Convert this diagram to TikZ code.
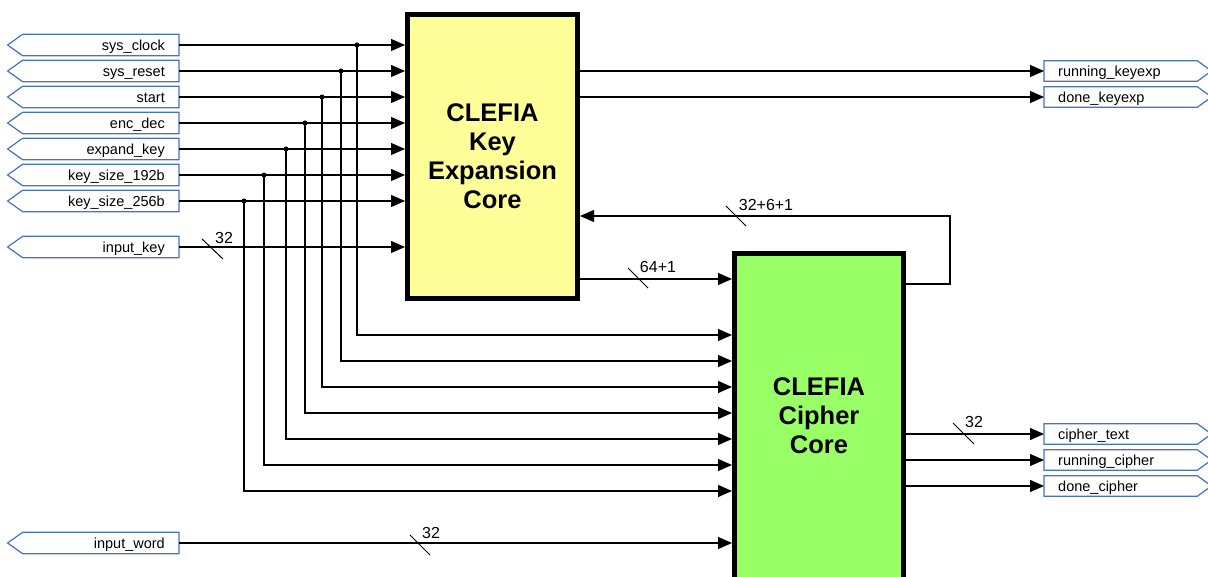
\documentclass[tikz,border=0pt]{standalone}
\usepackage{fontspec}
\setmainfont{Liberation Sans}
\usetikzlibrary{arrows.meta}
\definecolor{portblue}{RGB}{68,114,196}
\definecolor{kyellow}{RGB}{255,255,153}
\definecolor{cgreen}{RGB}{153,255,102}
\newcommand\lblfont{\fontsize{14.5}{17}\selectfont}
\newcommand\busfont{\fontsize{16}{19}\selectfont}
\newcommand\ttlfont{\fontsize{25.5}{29}\selectfont\bfseries}
\begin{document}
\begin{tikzpicture}[x=1pt,y=-1pt,
  wire/.style={line width=1.2pt},
  arr/.style={wire,-{Triangle[length=14pt,width=12pt]}},
  inport/.style={anchor=east,minimum width=171pt,minimum height=21pt,inner sep=0pt,text width=143pt,text height=10.4pt,text depth=0pt,align=right,font=\lblfont},
  outport/.style={anchor=west,minimum width=153pt,minimum height=20pt,inner sep=0pt,text width=125pt,text height=10.4pt,text depth=0pt,align=left,font=\lblfont},
  portline/.style={draw=portblue,line width=1.2pt,line join=miter},
  core/.style={draw=black,line width=5pt,inner sep=0pt},
  jdot/.style={circle,fill=black,inner sep=0pt,minimum size=5pt},
  buslbl/.style={font=\busfont,inner sep=0pt},
  slash/.style={line width=1pt}
]
\useasboundingbox (0,0) rectangle (1208,577);

% core blocks
\node[core,fill=kyellow,minimum width=170pt,minimum height=284pt,font=\ttlfont,align=center] (kex) at (492.5,156.5) {CLEFIA\\Key\\Expansion\\Core};
\node[core,fill=cgreen,minimum width=169pt,minimum height=446pt] (cc) at (819,476.5) {};
\node[font=\ttlfont,align=center,inner sep=0pt] (cct) at (819,416) {CLEFIA\\Cipher\\Core};

% input ports
\node[inport] (clk)  at (179,45)  {sys\_clock};
\node[inport] (rst)  at (179,71)  {sys\_reset};
\node[inport] (st)   at (179,97)  {start};
\node[inport] (ed)   at (179,123) {enc\_dec};
\node[inport] (ek)   at (179,149) {expand\_key};
\node[inport] (k192) at (179,175) {key\_size\_192b};
\node[inport] (k256) at (179,201) {key\_size\_256b};
\node[inport] (key)  at (179,247) {input\_key};
\node[inport] (word) at (179,543) {input\_word};
\foreach \n in {clk,rst,st,ed,ek,k192,k256,key,word}
  \draw[portline] (\n.north east) -- (\n.south east) -- ([xshift=15pt]\n.south west) -- (\n.west) -- ([xshift=15pt]\n.north west) -- cycle;

% output ports
\node[outport] (rk) at (1044,71)  {running\_keyexp};
\node[outport] (dk) at (1044,97)  {done\_keyexp};
\node[outport] (ct) at (1044,434) {cipher\_text};
\node[outport] (rc) at (1044,460) {running\_cipher};
\node[outport] (dc) at (1044,486) {done\_cipher};
\foreach \n in {rk,dk,ct,rc,dc}
  \draw[portline] (\n.north west) -- (\n.north east) -- ([xshift=14pt]\n.east) -- (\n.south east) -- (\n.south west) -- cycle;

% junctions
\node[jdot] (j1) at (357,45)  {};
\node[jdot] (j2) at (341,71)  {};
\node[jdot] (j3) at (322,97)  {};
\node[jdot] (j4) at (305,123) {};
\node[jdot] (j5) at (286,149) {};
\node[jdot] (j6) at (264,175) {};
\node[jdot] (j7) at (244,201) {};

% wires into key expansion
\foreach \n in {clk,rst,st,ed,ek,k192,k256,key}
  \draw[arr] (\n.east) -- (kex.west |- \n.east);

% wires into cipher core
\coordinate (y1) at (0,335);
\coordinate (y2) at (0,361);
\coordinate (y3) at (0,387);
\coordinate (y4) at (0,413);
\coordinate (y5) at (0,439);
\coordinate (y6) at (0,465);
\coordinate (y7) at (0,491);
\foreach \i in {1,...,7}
  \draw[arr] (j\i.center) |- (cc.west |- y\i);
\draw[arr] (word.east) -- (cc.west |- word.east);

% key expansion <-> cipher
\coordinate (ko) at (0,279);
\draw[arr] (kex.east |- ko) -- (cc.west |- ko);
\coordinate (fbr) at (950,284);
\coordinate (fbt) at (950,216);
\draw[arr] (cc.east |- fbr) -- (fbr) -- (fbt) -- (kex.east |- fbt);

% outputs
\draw[arr] (kex.east |- rk.west) -- (rk.west);
\draw[arr] (kex.east |- dk.west) -- (dk.west);
\draw[arr] (cc.east |- ct.west) -- (ct.west);
\draw[arr] (cc.east |- rc.west) -- (rc.west);
\draw[arr] (cc.east |- dc.west) -- (dc.west);

% bus width marks
\draw[slash] (202,239) -- (223,259);
\node[buslbl] (b1) at (224,238) {32};
\draw[slash] (410,535) -- (430,555);
\node[buslbl] (b2) at (431,533) {32};
\draw[slash] (628,268) -- (648,288);
\node[buslbl] (b3) at (658,267) {64+1};
\draw[slash] (726,206) -- (746,226);
\node[buslbl] (b4) at (766,205) {32+6+1};
\draw[slash] (953,423) -- (974,444);
\node[buslbl] (b5) at (974,422) {32};
\end{tikzpicture}
\end{document}
